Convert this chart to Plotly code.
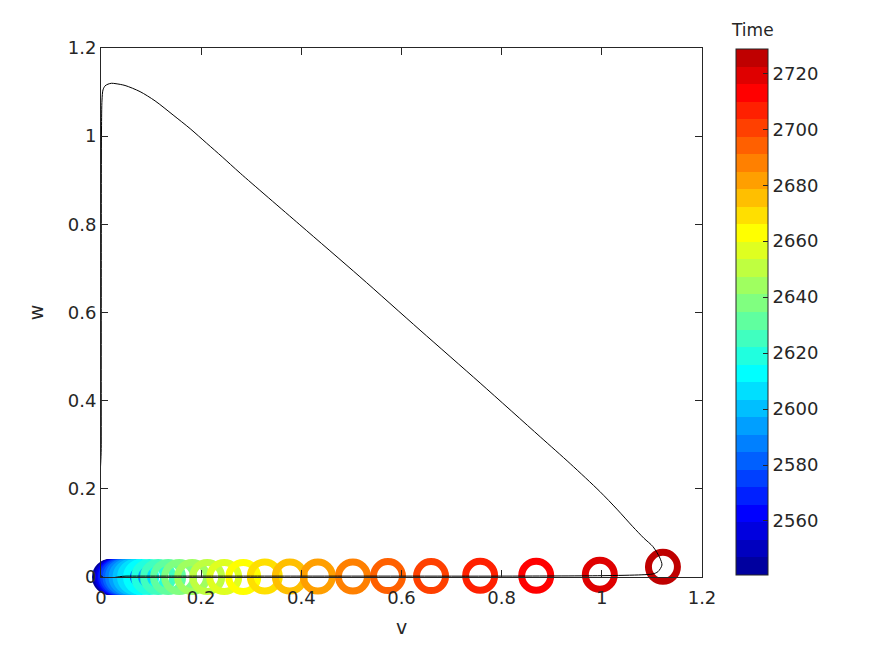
import plotly.graph_objects as go

# ---- data ----
# sampled states (v, w) coloured by time
v_pts = [0.018, 0.020, 0.022, 0.024, 0.027, 0.030, 0.034, 0.039, 0.044, 0.051,
         0.059, 0.068, 0.080, 0.096, 0.114, 0.134, 0.156, 0.182, 0.212, 0.246,
         0.284, 0.327, 0.377, 0.433, 0.503, 0.573, 0.659, 0.757, 0.869, 0.996, 1.122]
w_pts = [0.0, 0.0, 0.0, 0.0, 0.0, 0.0, 0.0, 0.0, 0.0, 0.0,
         0.0, 0.0, 0.0, 0.0, 0.0, 0.0, 0.0, 0.0, 0.0, 0.0,
         0.0, 0.001, 0.001, 0.001, 0.001, 0.002, 0.002, 0.003, 0.003, 0.005, 0.023]
time_pts = [2540.7, 2546.9, 2553.2, 2559.4, 2565.7, 2572.0, 2578.2, 2584.5, 2590.8, 2597.0,
            2603.3, 2609.6, 2615.8, 2622.1, 2628.4, 2634.6, 2640.9, 2647.2, 2653.4, 2659.7,
            2666.0, 2672.2, 2678.5, 2684.8, 2691.0, 2697.3, 2703.6, 2709.8, 2716.1, 2722.4, 2728.7]
time_min = 2540.7
time_max = 2728.7

# full trajectory (black line)
traj_v = [0.0005, 0.05, 0.2, 0.4, 0.6, 0.8, 1.0, 1.08, 1.102, 1.112, 1.120, 1.116, 1.102,
          1.084, 1.062, 1.030, 0.996, 0.937, 0.877, 0.757, 0.637, 0.517, 0.397, 0.278,
          0.242, 0.211, 0.178, 0.144, 0.108, 0.078, 0.048, 0.030, 0.021, 0.014, 0.008,
          0.004, 0.002, 0.001, 0.0006, 0.0005, 0.0005]
traj_w = [0.002, 0.002, 0.002, 0.002, 0.002, 0.002, 0.003, 0.005, 0.007, 0.012, 0.027, 0.043, 0.069,
          0.088, 0.114, 0.154, 0.194, 0.257, 0.318, 0.440, 0.560, 0.681, 0.799, 0.916,
          0.953, 0.984, 1.017, 1.048, 1.080, 1.101, 1.115, 1.119, 1.120, 1.118, 1.114,
          1.105, 1.082, 1.014, 0.700, 0.300, 0.002]

cbar_ticks = [2560, 2580, 2600, 2620, 2640, 2660, 2680, 2700, 2720]
axis_ticks = [0, 0.2, 0.4, 0.6, 0.8, 1.0, 1.2]


def jet(n):
    m = -(-n // 4)
    u = [i / m for i in range(1, m + 1)] + [1.0] * (m - 1) + [i / m for i in range(m, 0, -1)]
    g0 = -(-m // 2) - (1 if n % 4 == 1 else 0)
    cols = [[0.0, 0.0, 0.0] for _ in range(n)]
    for j, uu in enumerate(u):
        g = g0 + j + 1
        r = g + m
        b = g - m
        if 1 <= r <= n:
            cols[r - 1][0] = uu
        if 1 <= g <= n:
            cols[g - 1][1] = uu
        if 1 <= b <= n:
            cols[b - 1][2] = uu
    return ["rgb(%d,%d,%d)" % tuple(round(255 * c) for c in col) for col in cols]


N = 30
jc = jet(N)
cscale = []
for i, c in enumerate(jc):
    cscale.append([i / N, c])
    cscale.append([(i + 1) / N, c])

TXT = "#262626"
FONT = "DejaVu Sans"

fig = go.Figure()
fig.add_trace(go.Scatter(
    x=v_pts, y=w_pts, mode="markers", cliponaxis=False, showlegend=False,
    marker=dict(symbol="circle-open", size=29, color=time_pts, colorscale=cscale,
                cmin=time_min, cmax=time_max, line=dict(width=7),
                colorbar=dict(x=1.0566, xanchor="left", y=0.501, yanchor="middle",
                              thickness=32, lenmode="pixels", len=526,
                              xpad=0, ypad=0, outlinewidth=1, outlinecolor=TXT,
                              ticks="inside", ticklen=5, tickcolor=TXT,
                              tickvals=cbar_ticks, tickfont=dict(size=18, color=TXT, family=FONT))),
))
fig.add_trace(go.Scatter(
    x=traj_v, y=traj_w, mode="lines", showlegend=False,
    line=dict(color="black", width=1, shape="spline", smoothing=0.8),
))

axis_common = dict(range=[0, 1.2], tickvals=axis_ticks, showline=True, linecolor=TXT,
                   linewidth=1, mirror="ticks", ticks="inside", ticklen=7, tickcolor=TXT,
                   showgrid=False, zeroline=False,
                   tickfont=dict(size=18, color=TXT, family=FONT))
fig.update_xaxes(**axis_common, ticklabelstandoff=4,
                 title=dict(text="v", font=dict(size=19, color=TXT, family=FONT), standoff=14))
fig.update_yaxes(**axis_common,
                 title=dict(text="w", font=dict(size=19, color=TXT, family=FONT), standoff=19))

fig.add_annotation(text="Time", x=1.0832, y=1.034, xref="paper", yref="paper",
                   showarrow=False, xanchor="center", yanchor="middle",
                   font=dict(size=17, color=TXT, family=FONT))

fig.update_layout(width=885, height=648, margin=dict(l=93, r=191, t=40, b=79),
                  paper_bgcolor="white", plot_bgcolor="white",
                  font=dict(family=FONT, color=TXT))

fig.write_html("out.html")
